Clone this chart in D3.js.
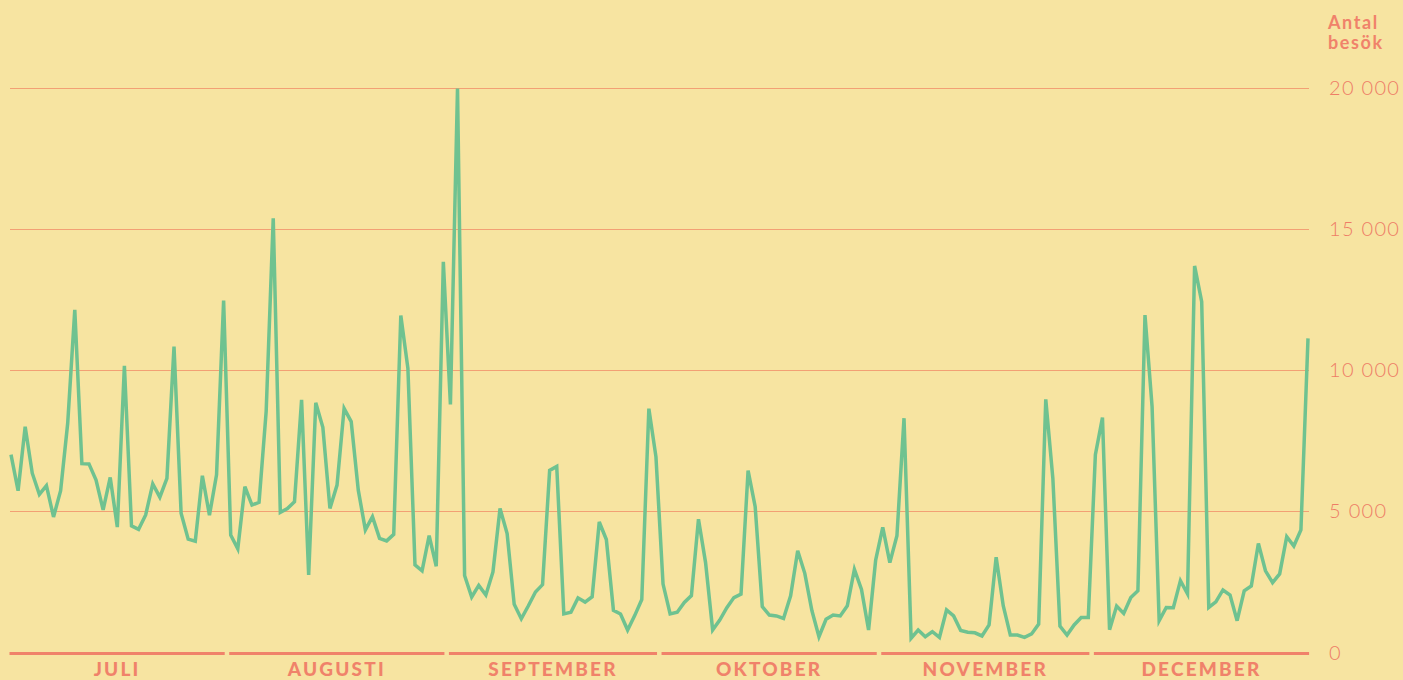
<!DOCTYPE html>
<html>
<head>
<meta charset="utf-8">
<script src="https://d3js.org/d3.v7.min.js"></script>
<style>
  html, body { margin: 0; padding: 0; background: #f7e4a1; overflow: hidden; }
  svg { display: block; }
</style>
</head>
<body>
<div class="vis"></div>
<script>
  // daily visits, 1 July - 31 December
  var juli = [7000, 5720, 7990, 6340, 5590, 5900, 4790, 5720, 8110, 12130, 6680, 6670, 6100, 5040, 6190, 4430,
    10150, 4470, 4350, 4860, 5960, 5490, 6160, 10830, 4920, 4000, 3930, 6250, 4850, 6280, 12460];
  var augusti = [4150, 3660, 5860, 5210, 5310, 8520, 15380, 4950, 5090, 5330, 8940, 2730, 8840, 7970, 5090, 5920,
    8640, 8170, 5740, 4330, 4800, 4030, 3940, 4170, 11930, 10060, 3090, 2880, 4130, 3040, 13840];
  var september = [8780, 19980, 2710, 1950, 2360, 2020, 2840, 5090, 4200, 1690, 1180, 1640, 2130, 2390, 6440, 6580,
    1350, 1410, 1920, 1770, 1960, 4610, 3990, 1480, 1350, 780, 1290, 1860, 8630, 6920];
  var oktober = [2410, 1350, 1410, 1760, 2000, 4710, 3170, 780, 1130, 1570, 1930, 2050, 6430, 5150, 1610, 1310,
    1280, 1190, 1990, 3590, 2790, 1470, 540, 1160, 1310, 1280, 1640, 2930, 2220, 780, 3260];
  var november = [4420, 3170, 4120, 8290, 490, 780, 540, 720, 520, 1490, 1280, 760, 700, 680, 570, 960,
    3360, 1640, 600, 600, 520, 640, 990, 8960, 6160, 920, 600, 960, 1220, 1220];
  var december = [7000, 8310, 790, 1630, 1370, 1930, 2170, 11950, 8700, 1110, 1580, 1570, 2530, 2060, 13690, 12420,
    1580, 1780, 2200, 2020, 1110, 2170, 2340, 3850, 2880, 2460, 2770, 4090, 3760, 4330, 11120];

  var monthNames = ['JULI', 'AUGUSTI', 'SEPTEMBER', 'OKTOBER', 'NOVEMBER', 'DECEMBER'];
  var yTicks = [5000, 10000, 15000, 20000];
  var yTickLabels = ['5 000', '10 000', '15 000', '20 000'];

  var values = [].concat(juli, augusti, september, oktober, november, december);
  var start = new Date(Date.UTC(2019, 6, 1));
  var data = values.map(function (v, i) {
    return { date: d3.utcDay.offset(start, i), value: v };
  });

  var width = 1403, height = 680;
  var red = '#f0826a';

  var svg = d3.select('.vis').append('svg')
    .attr('width', width)
    .attr('height', height);

  var x = d3.scaleUtc()
    .domain([data[0].date, data[data.length - 1].date])
    .range([11, 1308]);
  var y = d3.scaleLinear()
    .domain([0, 20000])
    .range([652, 88]);

  // gridlines
  svg.append('g')
    .selectAll('line')
    .data(yTicks)
    .join('line')
    .attr('x1', 10)
    .attr('x2', 1309)
    .attr('y1', function (d) { return Math.round(y(d)) + 0.5; })
    .attr('y2', function (d) { return Math.round(y(d)) + 0.5; })
    .attr('stroke', '#f2a074')
    .attr('stroke-width', 1.2);

  // tick labels
  svg.append('g')
    .selectAll('text')
    .data(yTicks)
    .join('text')
    .attr('x', 1329)
    .attr('y', function (d) { return y(d) + 7; })
    .text(function (d, i) { return yTickLabels[i]; })
    .attr('fill', '#ee7d66')
    .attr('font-family', 'Lato, sans-serif')
    .attr('font-weight', 300)
    .attr('font-size', 20)
    .attr('letter-spacing', 1.3);

  svg.append('text')
    .attr('x', 1329)
    .attr('y', y(0) + 8)
    .text('0')
    .attr('fill', '#ee7d66')
    .attr('font-family', 'Lato, sans-serif')
    .attr('font-weight', 300)
    .attr('font-size', 20);

  // axis title, two lines
  var titleLines = ['Antal', 'besök'];
  svg.append('g')
    .selectAll('text')
    .data(titleLines)
    .join('text')
    .attr('x', 1328)
    .attr('y', function (d, i) { return 29 + i * 20; })
    .text(function (d) { return d; })
    .attr('fill', red)
    .attr('font-family', 'Lato, sans-serif')
    .attr('font-weight', 700)
    .attr('font-size', 18)
    .attr('letter-spacing', 1.6);

  // month segments along the bottom
  var months = d3.utcMonths(start, d3.utcDay.offset(data[data.length - 1].date, 1));
  var segs = months.map(function (m, i) {
    var next = d3.utcMonth.offset(m, 1);
    return {
      name: monthNames[i],
      x0: x(m) - 1.5,
      x1: x(next) - 6
    };
  });

  svg.append('g')
    .selectAll('line')
    .data(segs)
    .join('line')
    .attr('x1', function (d) { return d.x0; })
    .attr('x2', function (d) { return d.x1; })
    .attr('y1', 653.5)
    .attr('y2', 653.5)
    .attr('stroke', red)
    .attr('stroke-width', 3);

  svg.append('g')
    .selectAll('text')
    .data(segs)
    .join('text')
    .attr('x', function (d) { return (d.x0 + d.x1) / 2; })
    .attr('y', 676)
    .attr('text-anchor', 'middle')
    .text(function (d) { return d.name; })
    .attr('fill', red)
    .attr('font-family', 'Lato, sans-serif')
    .attr('font-weight', 900)
    .attr('font-size', 19)
    .attr('letter-spacing', 2.2);

  // the line
  var line = d3.line()
    .x(function (d) { return x(d.date); })
    .y(function (d) { return y(d.value); });

  svg.append('path')
    .datum(data)
    .attr('d', line)
    .attr('fill', 'none')
    .attr('stroke', '#6fc290')
    .attr('stroke-width', 3.5)
    .attr('stroke-linejoin', 'miter');
</script>
</body>
</html>
